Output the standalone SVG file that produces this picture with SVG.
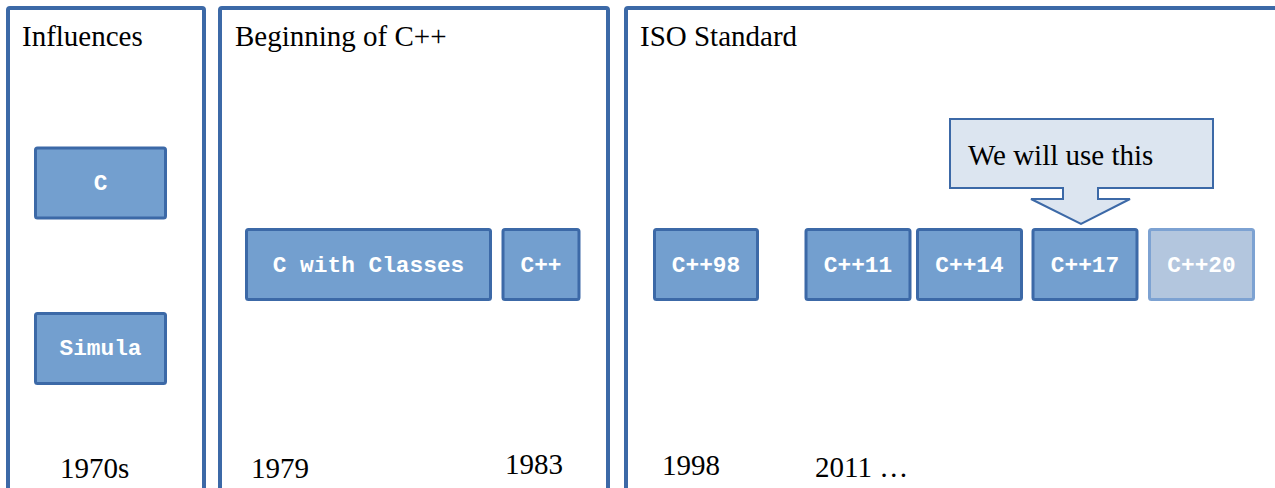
<svg xmlns="http://www.w3.org/2000/svg" width="1275" height="488" viewBox="0 0 1275 488">
<style>
.frame{fill:none;stroke:#3C69A7;stroke-width:4}
.box{fill:#739FCF;stroke:#3C69A7;stroke-width:3}
.box.faded{fill:#B3C6DE;stroke:#7DA2D2}
.bt{font-family:"Liberation Mono","Courier New",monospace;font-weight:bold;font-size:22.8px;fill:#FFFFFF;text-anchor:middle}
.t{font-family:"Liberation Serif","Times New Roman",serif;font-size:29px;fill:#000000}
.callout{fill:#DCE5F0;stroke:#3C69A7;stroke-width:2}
</style>
<rect width="1275" height="488" fill="#FFFFFF"/>
<g id="panel-influences">
<rect class="frame" x="8" y="8" width="196" height="500" rx="2"/>
<text class="t" x="22" y="46">Influences</text>
<text class="t" x="60" y="478">1970s</text>
</g>
<g id="panel-beginning">
<rect class="frame" x="220" y="8" width="388" height="500" rx="2"/>
<text class="t" x="235" y="46">Beginning of C++</text>
<text class="t" x="251" y="478">1979</text>
<text class="t" x="505" y="474">1983</text>
</g>
<g id="panel-iso">
<rect class="frame" x="626" y="8" width="660" height="500" rx="2"/>
<text class="t" x="640" y="46">ISO Standard</text>
<text class="t" x="662" y="475">1998</text>
<text class="t" x="815" y="477">2011 …</text>
</g>
<g id="node-c">
<rect class="box" x="35.5" y="148" width="130" height="70" rx="2"/>
<text class="bt" x="100.5" y="190">C</text>
</g>
<g id="node-simula">
<rect class="box" x="35.5" y="313.5" width="130" height="70" rx="2"/>
<text class="bt" x="100.5" y="355">Simula</text>
</g>
<g id="node-cwc">
<rect class="box" x="246.5" y="229.5" width="244" height="70" rx="2"/>
<text class="bt" x="368.5" y="272">C with Classes</text>
</g>
<g id="node-cpp">
<rect class="box" x="503" y="229.5" width="76" height="70" rx="2"/>
<text class="bt" x="541" y="272">C++</text>
</g>
<g id="node-cpp98">
<rect class="box" x="654.5" y="229.5" width="103" height="70" rx="2"/>
<text class="bt" x="706" y="272">C++98</text>
</g>
<g id="node-cpp11">
<rect class="box" x="806" y="229.5" width="104" height="70" rx="2"/>
<text class="bt" x="858" y="272">C++11</text>
</g>
<g id="node-cpp14">
<rect class="box" x="917.5" y="229.5" width="104" height="70" rx="2"/>
<text class="bt" x="969.5" y="272">C++14</text>
</g>
<g id="node-cpp17">
<rect class="box" x="1033" y="229.5" width="104" height="70" rx="2"/>
<text class="bt" x="1085" y="272">C++17</text>
</g>
<g id="node-cpp20">
<rect class="box faded" x="1149.5" y="229.5" width="104" height="70" rx="2"/>
<text class="bt" x="1201.5" y="272">C++20</text>
</g>
<g id="callout">
<path class="callout" d="M950,119 H1213 V188 H1098 V199 H1130 L1081,224 L1031,199 H1063 V188 H950 Z"/>
<text class="t" x="968" y="165">We will use this</text>
</g>
<g id="connectors"></g>
</svg>
